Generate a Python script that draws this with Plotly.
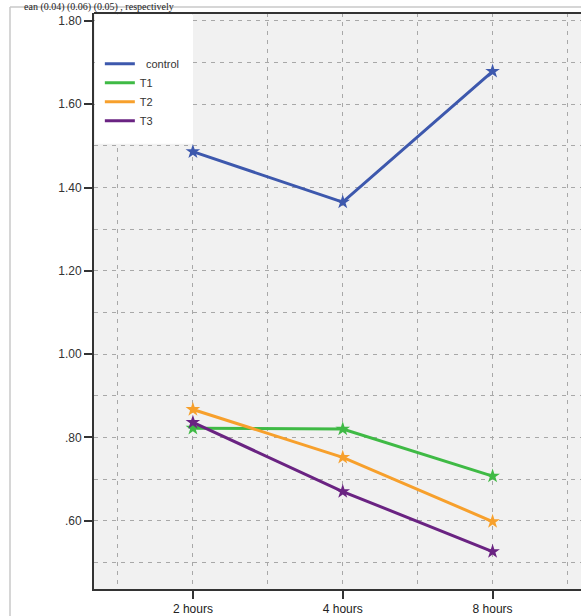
import plotly.graph_objects as go

# Sampling times and mean values per group
hours = ["2 hours", "4 hours", "8 hours"]
control = [1.486, 1.365, 1.679]
t1 = [0.822, 0.820, 0.707]
t2 = [0.867, 0.752, 0.598]
t3 = [0.836, 0.670, 0.526]

series_names = ["\u00a0\u00a0control", "T1", "T2", "T3"]
series_values = [control, t1, t2, t3]
series_colors = ["#3d58ad", "#3fba45", "#f7a02c", "#6a2382"]

y_tickvals = [0.6, 0.8, 1.0, 1.2, 1.4, 1.6, 1.8]
y_ticktext = [".60", ".80", "1.00", "1.20", "1.40", "1.60", "1.80"]

x_pos = [hours.index(h) for h in hours]

fig = go.Figure()
for name, vals, col in zip(series_names, series_values, series_colors):
    fig.add_trace(go.Scatter(
        x=x_pos, y=vals, name=name, mode="lines+markers",
        line=dict(color=col, width=3),
        marker=dict(symbol="star", size=11, color=col, line=dict(width=0)),
        showlegend=False, legendgroup=name,
    ))
# legend keys show the line colour only
for name, col in zip(series_names, series_colors):
    fig.add_trace(go.Scatter(
        x=[None], y=[None], name=name, mode="lines",
        line=dict(color=col, width=3), legendgroup=name, showlegend=True,
    ))

grid = dict(color="#a8a8a8", dash="4px,5px")

fig.update_layout(
    width=581, height=616,
    margin=dict(l=94, r=0, t=13, b=22),
    paper_bgcolor="white",
    plot_bgcolor="#f1f1f1",
    font=dict(family="Liberation Sans, Arial, sans-serif", size=11, color="#333333"),
    showlegend=True,
    legend=dict(
        x=0.012, y=0.937, xanchor="left", yanchor="top",
        bgcolor="rgba(0,0,0,0)", borderwidth=0,
        font=dict(size=11, color="#333333"),
        itemwidth=30, tracegroupgap=0,
    ),
    xaxis=dict(
        range=[-0.66, 2.59],
        tickmode="array", tickvals=x_pos, ticktext=hours,
        showgrid=True, gridcolor=grid["color"], gridwidth=1, griddash=grid["dash"],
        minor=dict(tick0=-0.5, dtick=1, showgrid=True, gridcolor=grid["color"],
                   gridwidth=1, griddash=grid["dash"], ticks=""),
        showline=True, linecolor="#333333", linewidth=2,
        ticks="outside", ticklen=8, tickwidth=2, tickcolor="#333333",
        tickfont=dict(size=12, color="#222222"),
        zeroline=False,
    ),
    yaxis=dict(
        range=[0.436, 1.819],
        tickmode="array", tickvals=y_tickvals, ticktext=y_ticktext,
        showgrid=True, gridcolor=grid["color"], gridwidth=1, griddash=grid["dash"],
        minor=dict(tick0=0.5, dtick=0.1, showgrid=True, gridcolor=grid["color"],
                   gridwidth=1, griddash=grid["dash"], ticks=""),
        showline=True, linecolor="#333333", linewidth=2,
        ticks="outside", ticklen=8, tickwidth=2, tickcolor="#333333",
        tickfont=dict(size=12, color="#333333"),
        zeroline=False,
    ),
)

# white legend panel in the top-left corner of the plot area
fig.add_shape(type="rect", xref="paper", yref="paper",
              x0=0.002, x1=(193 - 94) / 487, y0=(594 - 145) / 581, y1=0.998,
              fillcolor="white", line=dict(width=0), layer="above")
# top border of the plot frame
fig.add_shape(type="line", xref="paper", yref="paper",
              x0=0, x1=1, y0=1, y1=1, line=dict(color="#333333", width=2))
# outer chart frame
fig.add_shape(type="line", xref="paper", yref="paper",
              x0=(10 - 94) / 487, x1=(10 - 94) / 487, y0=-0.1, y1=(594 - 7) / 581,
              line=dict(color="#c8c8c8", width=1.5))
fig.add_shape(type="line", xref="paper", yref="paper",
              x0=(10 - 94) / 487, x1=1.1, y0=(594 - 7) / 581, y1=(594 - 7) / 581,
              line=dict(color="#c8c8c8", width=1.5))

# caption text running above the chart
fig.add_annotation(text="ean (0.04) (0.06) (0.05) , respectively",
                   xref="paper", yref="paper", x=(22 - 94) / 487, y=1.0,
                   xanchor="left", yanchor="top", yshift=14, showarrow=False,
                   font=dict(family="Liberation Serif, Times New Roman, serif", size=10,
                             color="#222222"))

fig.write_html("out.html")
